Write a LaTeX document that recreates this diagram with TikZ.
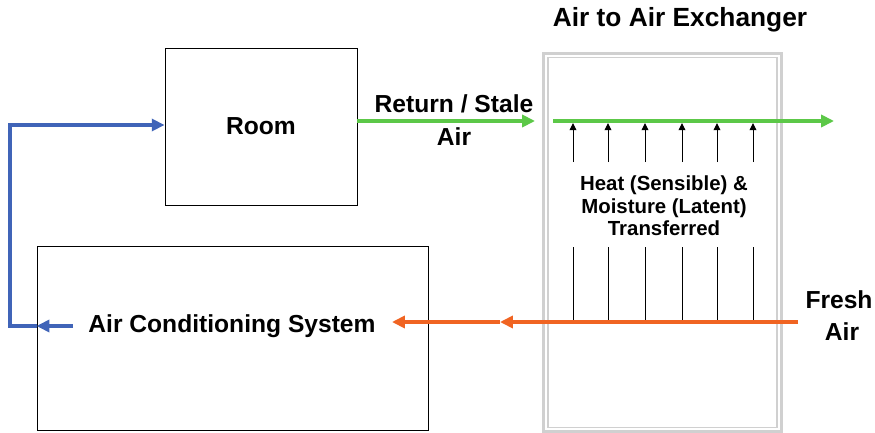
\documentclass[tikz,border=0pt]{standalone}
\usepackage{fontspec}
\setmainfont{Liberation Sans}
\usepackage{xcolor}
\usetikzlibrary{positioning,arrows.meta,calc}
\definecolor{airgreen}{RGB}{92,200,72}
\definecolor{airblue}{RGB}{64,100,184}
\definecolor{airorange}{RGB}{240,100,34}
\definecolor{exgray}{RGB}{208,208,208}

\begin{document}
\begin{tikzpicture}[x=0.025cm, y=-0.025cm, font=\bfseries\fontsize{17.5}{21}\selectfont,
  box/.style={draw=black, line width=0.6pt, inner sep=0pt},
  lab/.style={inner sep=0pt, align=center},
  small/.style={lab, font=\bfseries\fontsize{14.5}{16}\selectfont},
  exwall/.style={draw=exgray, inner sep=0pt},
  greenarr/.style={draw=airgreen, line width=2.8pt, -{Triangle[length=3.2mm, width=3mm]}},
  orangearr/.style={draw=airorange, line width=2.5pt, -{Triangle[length=3.2mm, width=3mm]}},
  bluearr/.style={draw=airblue, line width=2.6pt, -{Triangle[length=3.2mm, width=3mm]}},
  tick/.style={draw=black, line width=0.7pt},
  tickarr/.style={tick, -{Triangle[length=1.8mm, width=1.7mm]}}]
\useasboundingbox (0,0) rectangle (875,433);
\node[box, minimum width=4.8cm, minimum height=3.925cm] (room) at (261,126.5) {Room};
\node[box, minimum width=9.775cm, minimum height=4.6cm] (ac) at (232.5,338) {};
\node[lab] (acname) at (232,326) {Air Conditioning System};
\node[exwall, line width=2.2pt, minimum width=5.95cm, minimum height=9.44cm] (exout) at (662.5,242.5) {};
\node[exwall, line width=1pt, minimum width=5.725cm, minimum height=9.25cm] (exin) at (662.5,242.5) {};
\node[lab, font=\bfseries\fontsize{18.7}{22}\selectfont] (extitle) at (680,20) {Air to Air Exchanger};
\node[small] (transfer) at (664,206) {Heat (Sensible) \&\\Moisture (Latent)\\Transferred};
\coordinate (retend) at (535,121);
\coordinate (stalein) at (553,121);
\coordinate (staleout) at (834,121);
\coordinate (fresh) at (798,322);
\coordinate (freshmid) at (500,322);
\coordinate (acin) at (392,322);
\coordinate (acsupply) at (73,326);
\coordinate (loop) at (10,326);
\node[lab] (retlab) at (454,104) {Return / Stale};
\node[lab] (retair) at (454,137) {Air};
\node[lab] (freshlab) at (839,300) {Fresh};
\node[lab] (freshair) at (842,332) {Air};
\draw[greenarr] (room.east |- retend) -- (retend);
\draw[greenarr] (stalein) -- (staleout);
\foreach \x in {573,608,645,682,717,753} {
  \draw[tickarr] (\x,162) -- (\x,123);
  \draw[tick] (\x,247) -- (\x,322);
}
\draw[orangearr] (fresh) -- (freshmid);
\draw[orangearr] (freshmid) -- (acin);
\draw[bluearr] (acsupply) -- (acsupply -| ac.west);
\draw[bluearr] (acsupply -| ac.west) -- (loop) |- (room.west |- 0,125);
\end{tikzpicture}
\end{document}
